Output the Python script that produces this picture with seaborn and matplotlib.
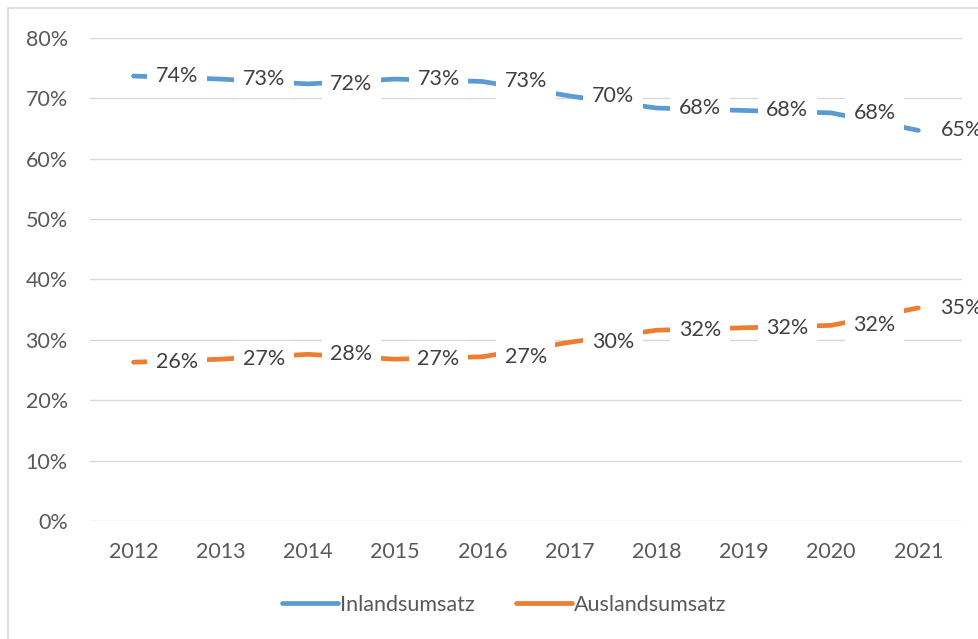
import pandas as pd
import matplotlib.pyplot as plt
import seaborn as sns
from matplotlib.patches import Rectangle
from matplotlib.ticker import PercentFormatter

years = [2012, 2013, 2014, 2015, 2016, 2017, 2018, 2019, 2020, 2021]
inland = [73.7, 73.2, 72.4, 73.2, 72.8, 70.4, 68.4, 68.0, 67.6, 64.7]
ausland = [26.3, 26.8, 27.6, 26.8, 27.2, 29.6, 31.6, 32.0, 32.4, 35.3]
series_names = ['Inlandsumsatz', 'Auslandsumsatz']
colors = ['#5B9BD5', '#ED7D31']

df = pd.DataFrame({
    'pos': list(range(len(years))) * 2,
    'wert': inland + ausland,
    'reihe': [series_names[0]] * len(years) + [series_names[1]] * len(years),
})

sns.set_style('white')
plt.rcParams['font.family'] = ['Lato', 'DejaVu Sans']

fig = plt.figure(figsize=(9.79, 6.39), dpi=100)
ax = fig.add_axes([0.0919, 0.1847, 0.8907, 0.7558])

# chart frame like Excel (no bottom edge visible)
fig.patches.append(Rectangle((8.5 / 979, -0.2), 1.2, 1.2 - 8 / 639, transform=fig.transFigure,
                             fill=False, edgecolor='#d9d9d9', linewidth=1.2, zorder=0))

sns.lineplot(data=df, x='pos', y='wert', hue='reihe', palette=colors, linewidth=3.4,
             ax=ax, legend=False, zorder=3, solid_capstyle='round')

for vals in [inland, ausland]:
    for i, v in enumerate(vals):
        ax.annotate(f'{v:.0f}%', (i, v), xytext=(16, 0), textcoords='offset points',
                    ha='left', va='center', fontsize=15.5, color='#404040', zorder=5,
                    bbox=dict(boxstyle='square,pad=0.4', facecolor='white', edgecolor='none'))

ax.set_xlim(-0.5, len(years) - 0.5)
ax.set_ylim(0, 80)
ax.set_yticks(range(0, 81, 10))
ax.yaxis.set_major_formatter(PercentFormatter(decimals=0))
ax.set_xticks(range(len(years)))
ax.set_xticklabels([str(y) for y in years])
ax.grid(axis='y', color='#d9d9d9', linewidth=1)
ax.set_axisbelow(True)
for s in ax.spines.values():
    s.set_visible(False)
ax.tick_params(axis='both', length=0, labelsize=15.5, labelcolor='#595959')
ax.tick_params(axis='x', pad=15)
ax.tick_params(axis='y', pad=16)
ax.set_xlabel('')
ax.set_ylabel('')

handles = [plt.Line2D([], [], color=c, linewidth=3.4, solid_capstyle='round') for c in colors]
leg = fig.legend(handles, series_names, loc='center', bbox_to_anchor=(0.515, 1 - 605 / 639),
                 ncol=2, frameon=False, fontsize=15.5, handlelength=2.6, handletextpad=0.1,
                 columnspacing=1.9)
for t in leg.get_texts():
    t.set_color('#595959')

fig.savefig('out.png', dpi=100)
